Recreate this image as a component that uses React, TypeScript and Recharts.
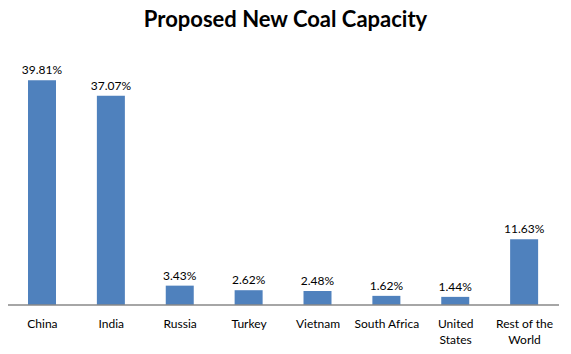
import React from "react";
import { BarChart, Bar, XAxis, YAxis, LabelList } from "recharts";

const categories = ["China", "India", "Russia", "Turkey", "Vietnam", "South Africa", "United\nStates", "Rest of the\nWorld"];
const shares = [39.81, 37.07, 3.43, 2.62, 2.48, 1.62, 1.44, 11.63];
const title = "Proposed New Coal Capacity";

const data = categories.map((c, i) => ({ name: c, value: shares[i] }));

const FONT = "Lato, 'Open Sans', sans-serif";

const Tick = (props: any) => {
  const { x, y, payload } = props;
  const lines = String(payload.value).split("\n");
  return (
    <g transform={`translate(${x},${y})`}>
      {lines.map((l, i) => (
        <text key={i} x={0} y={i * 16} dy={15} textAnchor="middle" fontSize={12} fill="#000" fontFamily={FONT}>
          {l}
        </text>
      ))}
    </g>
  );
};

export default function App() {
  return (
    <div style={{ position: "absolute", left: 0, top: 0, width: 571, height: 354, background: "#fff" }}>
      <div
        style={{
          position: "absolute",
          top: 5,
          left: 0,
          width: 571,
          textAlign: "center",
          fontFamily: FONT,
          fontWeight: 700,
          fontSize: 22,
          color: "#000",
        }}
      >
        {title}
      </div>
      <BarChart width={567} height={354} data={data} margin={{ top: 51, right: 8, bottom: 0, left: 8 }} barSize={28}>
        <XAxis dataKey="name" axisLine={{ stroke: "#888888", strokeWidth: 1.5 }} tickLine={false} tick={<Tick />} interval={0} height={49} />
        <YAxis hide domain={[0, 45]} />
        <Bar dataKey="value" fill="#4F81BD" isAnimationActive={false}>
          <LabelList dataKey="value" position="top" offset={6} formatter={(v: any) => `${Number(v).toFixed(2)}%`} style={{ fontSize: 12, fill: "#000", fontFamily: FONT }} />
        </Bar>
      </BarChart>
    </div>
  );
}
